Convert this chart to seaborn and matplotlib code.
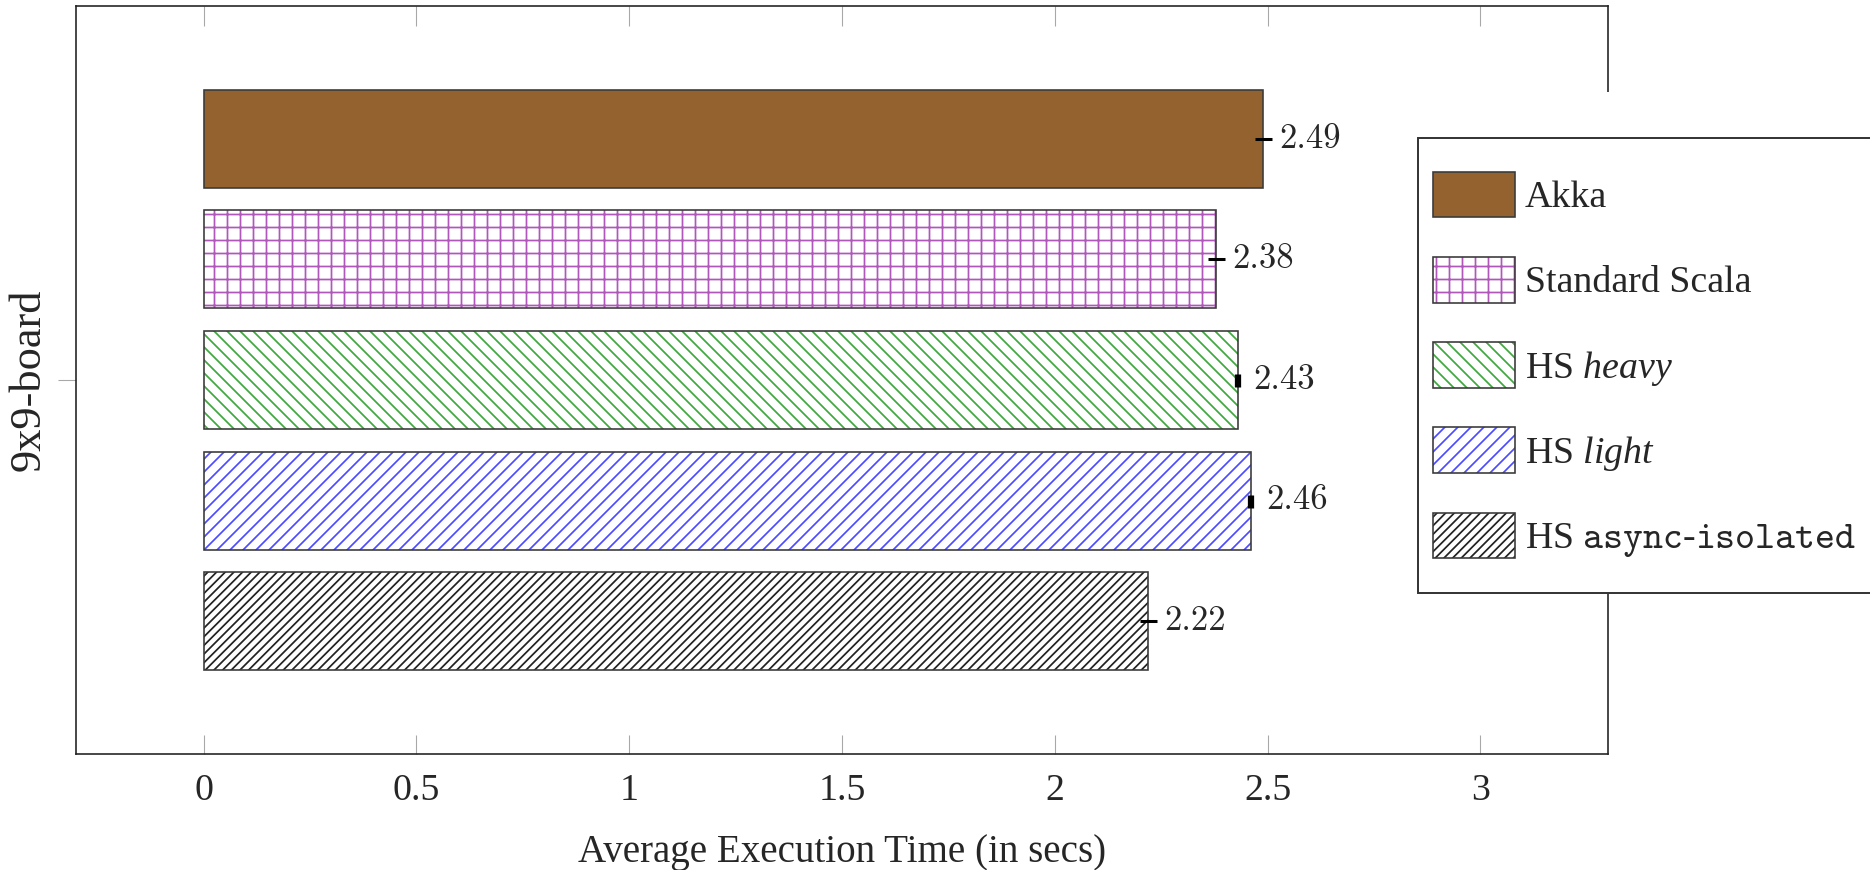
import pandas as pd
import matplotlib
matplotlib.use("Agg")
import matplotlib.pyplot as plt
from matplotlib.patches import Rectangle
import seaborn as sns

# data
boards = ["9x9-board"]
impls = ["Akka", "Standard Scala", "HS heavy", "HS light", "HS async-isolated"]
times = [2.49, 2.38, 2.43, 2.46, 2.22]
errs = [0.02, 0.02, 0.004, 0.004, 0.02]
legend_labels = ["Akka", "Standard Scala", r"HS $\mathit{heavy}$", r"HS $\mathit{light}$",
                 r"HS $\mathtt{async}$-$\mathtt{isolated}$"]
tick_vals = [0, 0.5, 1, 1.5, 2, 2.5, 3]
tick_labels = ["0", "0.5", "1", "1.5", "2", "2.5", "3"]

# styles
hatch_colors = ["#94622F", "#B058BA", "#3FA83F", "#4D4DFF", "#222222"]
face_colors = ["#94622F", "white", "white", "white", "white"]
hatches = ["", "+", "\\\\", "//", "///"]
edge = "#3a3a3a"

DPI = 78
sns.set_theme(style="white")
plt.rcParams["font.family"] = ["Liberation Serif", "DejaVu Serif"]
plt.rcParams["mathtext.fontset"] = "custom"
plt.rcParams["mathtext.rm"] = "Liberation Serif"
plt.rcParams["mathtext.it"] = "Liberation Serif:italic"
plt.rcParams["mathtext.tt"] = "cmtt10"
plt.rcParams["hatch.linewidth"] = 1.6

df = pd.DataFrame({"board": boards * len(impls), "impl": impls, "time": times})
pal = dict(zip(impls, hatch_colors))

fig = plt.figure(figsize=(1870 / DPI, 870 / DPI), dpi=DPI)
ax = fig.add_axes([76 / 1870, 1 - 754 / 870, (1608 - 76) / 1870, (754 - 6) / 870])

# hatched fill, then outline on top (hatch colour differs from edge colour)
sns.barplot(data=df, x="time", y="board", hue="impl", hue_order=impls, palette=pal,
            saturation=1, orient="h", width=1.0, gap=0.19, errorbar=None, legend=False, ax=ax)
sns.barplot(data=df, x="time", y="board", hue="impl", hue_order=impls, palette=pal,
            saturation=1, orient="h", width=1.0, gap=0.19, errorbar=None, legend=False,
            fill=False, ax=ax)

fills = ax.patches[:5]
outlines = ax.patches[5:10]
for p, fc, hc, h in zip(fills, face_colors, hatch_colors, hatches):
    p.set_facecolor(fc)
    p.set_edgecolor(hc)
    p.set_hatch(h)
    p.set_linewidth(0)
for p in outlines:
    p.set_facecolor("none")
    p.set_edgecolor(edge)
    p.set_linewidth(1.5)

# error bars + value labels
for p, v, e in zip(fills, times, errs):
    yc = p.get_y() + p.get_height() / 2
    ax.errorbar(v, yc, xerr=e, fmt="none", ecolor="black", elinewidth=2.8,
                capsize=(6 if e < 0.01 else 0), capthick=3)
    ax.text(v + 0.037, yc, f"{v:.2f}", va="center", ha="left", fontsize=32, family="cmr10")

ax.set_xlim(-0.3, 3.3)
ax.set_ylim(0.62, -0.62)
ax.set_xticks(tick_vals)
ax.set_xticklabels(tick_labels)
ax.tick_params(axis="x", direction="in", top=True, bottom=True, length=18, width=1,
               color="#a8a8a8", pad=18, labelsize=35)
ax.tick_params(axis="y", direction="out", left=True, length=17, width=1,
               color="#a8a8a8", pad=8, labelsize=41)
plt.setp(ax.get_yticklabels(), rotation=90, va="center")
ax.set_ylabel("")
ax.set_xlabel("Average Execution Time (in secs)", fontsize=36, labelpad=24)
for s in ax.spines.values():
    s.set_color("#222222")
    s.set_linewidth(1.5)

# legend without its own frame; the frame is drawn a bit taller than the entries
handles = [(f, o) for f, o in zip(fills, outlines)]
leg = ax.legend(handles, legend_labels, loc="upper left",
                bbox_to_anchor=(1418 / 1870, 1 - 157 / 870), bbox_transform=fig.transFigure,
                fontsize=35, frameon=False, borderaxespad=0,
                handlelength=2.16, handleheight=1.46, handletextpad=0.25,
                labelspacing=1.05, borderpad=0.4)
fig.canvas.draw()
bb = leg.get_window_extent()
extra = 19
# white margin above the legend box hides the right spine there too
ax.add_artist(Rectangle((bb.x0, bb.y0 - extra), 1870 - bb.x0 + 20, bb.height + 2 * extra + 46,
                        transform=None, facecolor="white", edgecolor="none",
                        clip_on=False, zorder=4.8))
ax.add_artist(Rectangle((bb.x0, bb.y0 - extra), 1870 - bb.x0 + 20, bb.height + 2 * extra,
                        transform=None, facecolor="white", edgecolor="#333333", linewidth=1.8,
                        clip_on=False, zorder=4.9))

fig.savefig("out.png", dpi=DPI)
